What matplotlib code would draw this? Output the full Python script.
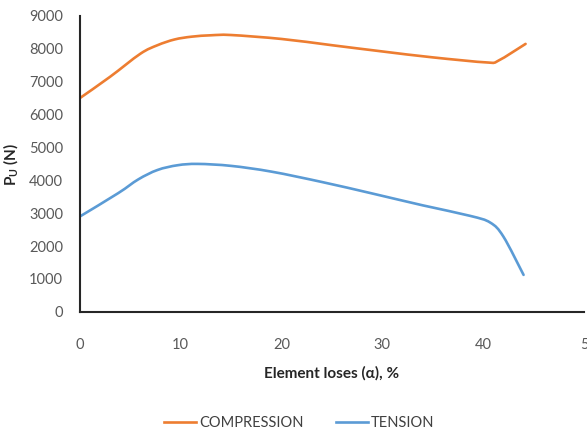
import matplotlib
matplotlib.use("Agg")
import matplotlib.pyplot as plt
from matplotlib.path import Path
from matplotlib.patches import PathPatch
from matplotlib.lines import Line2D

# values
comp_loss = [0, 3, 6, 7.7, 9.4, 11.1, 13, 15, 20, 25, 30, 35, 40.4, 41.5, 44.2]
compression = [6500, 7150, 7850, 8110, 8285, 8370, 8412, 8420, 8300, 8110, 7920,
               7740, 7585, 7640, 8150]
tens_loss = [0, 3.8, 5.8, 7.7, 9.7, 11.7, 15, 19, 24, 29, 34, 38.7, 40.7,
             42.0, 44.0]
tension = [2900, 3610, 4030, 4315, 4460, 4500, 4440, 4265, 3950, 3600,
           3240, 2920, 2715, 2290, 1125]

x_ticks = [0, 10, 20, 30, 40, 50]
x_ticklabels = ["0", "10", "20", "30", "40", "5"]
y_ticks = list(range(0, 9001, 1000))


def smooth_path(xs, ys):
    # Excel style smoothed line: bezier segments through every point
    pts = list(zip(xs, ys))
    verts = [pts[0]]
    codes = [Path.MOVETO]
    n = len(pts)
    for i in range(n - 1):
        p0 = pts[i - 1] if i > 0 else pts[i]
        p1 = pts[i]
        p2 = pts[i + 1]
        p3 = pts[i + 2] if i + 2 < n else pts[i + 1]
        c1 = (p1[0] + (p2[0] - p0[0]) / 6, p1[1] + (p2[1] - p0[1]) / 6)
        c2 = (p2[0] - (p3[0] - p1[0]) / 6, p2[1] - (p3[1] - p1[1]) / 6)
        verts += [c1, c2, p2]
        codes += [Path.CURVE4] * 3
    return Path(verts, codes)


plt.rcParams['font.family'] = ['Lato', 'DejaVu Sans']

fig = plt.figure(figsize=(5.87, 4.43), dpi=100)
ax = fig.add_axes([0.136, 0.296, 0.859, 0.668])

series = [("COMPRESSION", comp_loss, compression, "#ED7D31"),
          ("TENSION", tens_loss, tension, "#5B9BD5")]
handles = []
for name, xs, vals, col in series:
    ax.add_patch(PathPatch(smooth_path(xs, vals), facecolor="none",
                           edgecolor=col, lw=1.9, capstyle="round"))
    handles.append(Line2D([], [], color=col, lw=1.9, label=name))

ax.set_xlim(0, 50)
ax.set_ylim(0, 9000)
ax.set_xticks(x_ticks)
ax.set_xticklabels(x_ticklabels)
ax.set_yticks(y_ticks)
ax.tick_params(length=0, labelsize=10.5, labelcolor="#595959")
ax.tick_params(axis="x", pad=19)
ax.tick_params(axis="y", pad=12)

for side in ["top", "right"]:
    ax.spines[side].set_visible(False)
for side in ["left", "bottom"]:
    ax.spines[side].set_color("#262626")
    ax.spines[side].set_linewidth(1.5)

ax.set_xlabel("Element loses (\u03b1), %", fontsize=11, fontweight="bold",
              color="#262626", labelpad=10)
ax.set_ylabel("P$_\\mathregular{U}$ (N)", fontsize=11, fontweight="bold",
              color="#262626", labelpad=6)

fig.legend(handles=handles, loc="lower center", bbox_to_anchor=(0.51, 0.0),
           ncol=2, frameon=False, fontsize=10.5, labelcolor="#404040",
           handlelength=2.2, handletextpad=0.2, columnspacing=2.2)

fig.savefig("out.png", dpi=100)
